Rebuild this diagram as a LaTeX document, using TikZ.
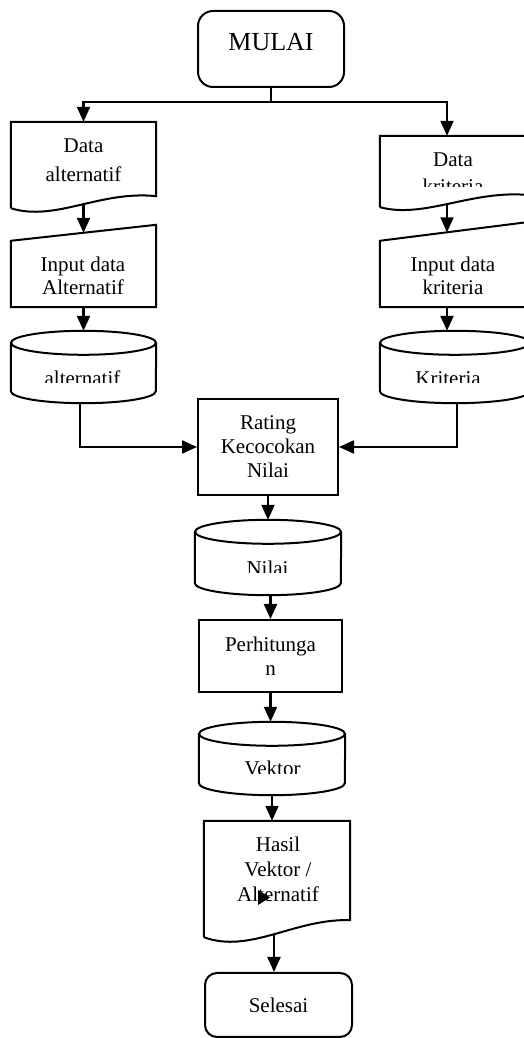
\documentclass[tikz,border=0pt]{standalone}
\usepackage{fontspec}
\setmainfont{Liberation Serif}
\usetikzlibrary{arrows.meta, positioning}

\begin{document}
\begin{tikzpicture}[x=1pt, y=1pt,
    shp/.style={line width=2pt},
    link/.style={line width=2.2pt},
    flow/.style={line width=2.2pt, -{Triangle[length=15pt, width=13pt]}},
    slot/.style={inner sep=0pt},
    term/.style={draw, line width=2pt, rounded corners=15pt, inner sep=0pt, align=center},
    proc/.style={draw, line width=2pt, inner sep=0pt, align=center},
    txt/.style={anchor=base, align=center, inner sep=0pt, font=\fontsize{21}{24}\selectfont}]
    \clip (0,0) rectangle (524,1038);

    % Start
    \node[term, minimum width=146pt, minimum height=76pt, text depth=15pt, font=\fontsize{26}{30}\selectfont] (mul) at (271,989) {MULAI};
    \coordinate (split) at (271,936);

    % Data alternatif (document)
    \node[slot, minimum width=145pt, minimum height=86pt] (dalt) at (83.5,873) {};
    \draw[shp] (dalt.south west) -- (dalt.north west) -- (dalt.north east) -- ([yshift=12pt]dalt.south east) .. controls +(-56,6) and +(44,-14) .. (dalt.south west);
    \node[txt, font=\fontsize{21}{29}\selectfont] (tdalt) at (83.5,856) {Data\\alternatif};

    % Data kriteria (document)
    \node[slot, minimum width=150pt, minimum height=71pt] (dkri) at (455,866.5) {};
    \draw[shp] (dkri.south west) -- (dkri.north west) -- (dkri.north east) -- ([yshift=12pt]dkri.south east) .. controls +(-58,6) and +(45,-12) .. (dkri.south west);
    \begin{scope}
        \clip (380,851) rectangle (524,902);
        \node[txt, font=\fontsize{21}{27}\selectfont] (tdkri) at (453,844) {Data\\kriteria};
    \end{scope}

    % Manual inputs
    \node[slot, minimum width=145pt, minimum height=82pt] (inalt) at (83.5,772) {};
    \draw[shp] (inalt.south west) -- ([yshift=-16pt]inalt.north west) -- (inalt.north east) -- (inalt.south east) -- cycle;
    \node[txt, font=\fontsize{21}{23}\selectfont] (tinalt) at (83,743) {Input data\\Alternatif};

    \node[slot, minimum width=150pt, minimum height=85pt] (inkri) at (455,773.5) {};
    \draw[shp] (inkri.south west) -- ([yshift=-19pt]inkri.north west) -- (inkri.north east) -- (inkri.south east) -- cycle;
    \node[txt, font=\fontsize{21}{23}\selectfont] (tinkri) at (453,743) {Input data\\kriteria};

    % Storage alternatif
    \node[slot, minimum width=145pt, minimum height=72pt] (calt) at (83.5,671) {};
    \draw[shp] ([yshift=-12pt]calt.north) ellipse [x radius=72.5, y radius=12];
    \draw[shp] ([yshift=-12pt]calt.north west) -- ([yshift=12pt]calt.south west) arc [start angle=180, end angle=360, x radius=72.5, y radius=12] -- ([yshift=-12pt]calt.north east);
    \begin{scope}
        \clip (11,655) rectangle (156,700);
        \node[txt] (tcalt) at (82.5,652) {alternatif};
    \end{scope}

    % Storage kriteria
    \node[slot, minimum width=150pt, minimum height=72pt] (ckri) at (455,671) {};
    \draw[shp] ([yshift=-12pt]ckri.north) ellipse [x radius=75, y radius=12];
    \draw[shp] ([yshift=-12pt]ckri.north west) -- ([yshift=12pt]ckri.south west) arc [start angle=180, end angle=360, x radius=75, y radius=12] -- ([yshift=-12pt]ckri.north east);
    \begin{scope}
        \clip (380,655) rectangle (524,700);
        \node[txt] (tckri) at (448,652) {Kriteria};
    \end{scope}

    % Rating
    \node[proc, minimum width=140pt, minimum height=96pt, font=\fontsize{21}{24}\selectfont] (rate) at (268,591) {Rating\\Kecocokan\\Nilai};

    % Storage nilai
    \node[slot, minimum width=146pt, minimum height=75pt] (cnil) at (268,480.5) {};
    \draw[shp] ([yshift=-12pt]cnil.north) ellipse [x radius=73, y radius=12];
    \draw[shp] ([yshift=-12pt]cnil.north west) -- ([yshift=12pt]cnil.south west) arc [start angle=180, end angle=360, x radius=73, y radius=12] -- ([yshift=-12pt]cnil.north east);
    \begin{scope}
        \clip (195,465) rectangle (341,510);
        \node[txt] (tcnil) at (267.5,462) {Nilai};
    \end{scope}

    % Perhitungan
    \node[proc, minimum width=143pt, minimum height=72pt, font=\fontsize{21}{24}\selectfont] (hit) at (270.5,382) {Perhitunga\\n};

    % Storage vektor
    \node[slot, minimum width=146pt, minimum height=73pt] (cvek) at (272,279.5) {};
    \draw[shp] ([yshift=-12pt]cvek.north) ellipse [x radius=73, y radius=12];
    \draw[shp] ([yshift=-12pt]cvek.north west) -- ([yshift=12pt]cvek.south west) arc [start angle=180, end angle=360, x radius=73, y radius=12] -- ([yshift=-12pt]cvek.north east);
    \begin{scope}
        \clip (199,264) rectangle (345,310);
        \node[txt] (tcvek) at (272.5,262) {Vektor};
    \end{scope}

    % Hasil (document)
    \node[slot, minimum width=146pt, minimum height=116pt] (hasil) at (277,159) {};
    \draw[shp] (hasil.south west) -- (hasil.north west) -- (hasil.north east) -- ([yshift=17pt]hasil.south east) .. controls +(-55,2) and +(46,-17) .. (hasil.south west);
    \node[txt, font=\fontsize{21}{25}\selectfont] (thasil) at (278,136) {Hasil\\Vektor /\\Alternatif};
    \fill (258,148) -- (270,140.5) -- (258,133) -- cycle;

    % End
    \node[term, rounded corners=12pt, minimum width=147pt, minimum height=64pt, font=\fontsize{21}{24}\selectfont] (sel) at (278.5,33) {Selesai};

    % Connectors
    \draw[link] (mul.south) -- (split);
    \draw[flow] (split) -| (dalt.north);
    \draw[flow] (split) -| ([xshift=-8pt]dkri.north);
    \draw[flow] ([yshift=3pt]dalt.south) -- ([yshift=-8pt]inalt.north);
    \draw[flow] ([xshift=-8pt, yshift=4pt]dkri.south) -- ([xshift=-8pt, yshift=-10.5pt]inkri.north);
    \draw[flow] (inalt.south) -- (calt.north);
    \draw[flow] ([xshift=-8pt]inkri.south) -- ([xshift=-8pt]inkri.south |- ckri.north);
    \draw[flow] ([xshift=-3.5pt]calt.south) |- (rate.west);
    \draw[flow] ([xshift=2pt]ckri.south) |- (rate.east);
    \draw[flow] (rate.south) -- (cnil.north);
    \draw[flow] (hit.north |- cnil.south) -- (hit.north);
    \draw[flow] (hit.south) -- (hit.south |- cvek.north);
    \draw[flow] (cvek.south) -- (cvek.south |- hasil.north);
    \draw[flow] ([xshift=-3pt, yshift=3pt]hasil.south) -- ([xshift=-3pt]hasil.south |- sel.north);
\end{tikzpicture}
\end{document}
